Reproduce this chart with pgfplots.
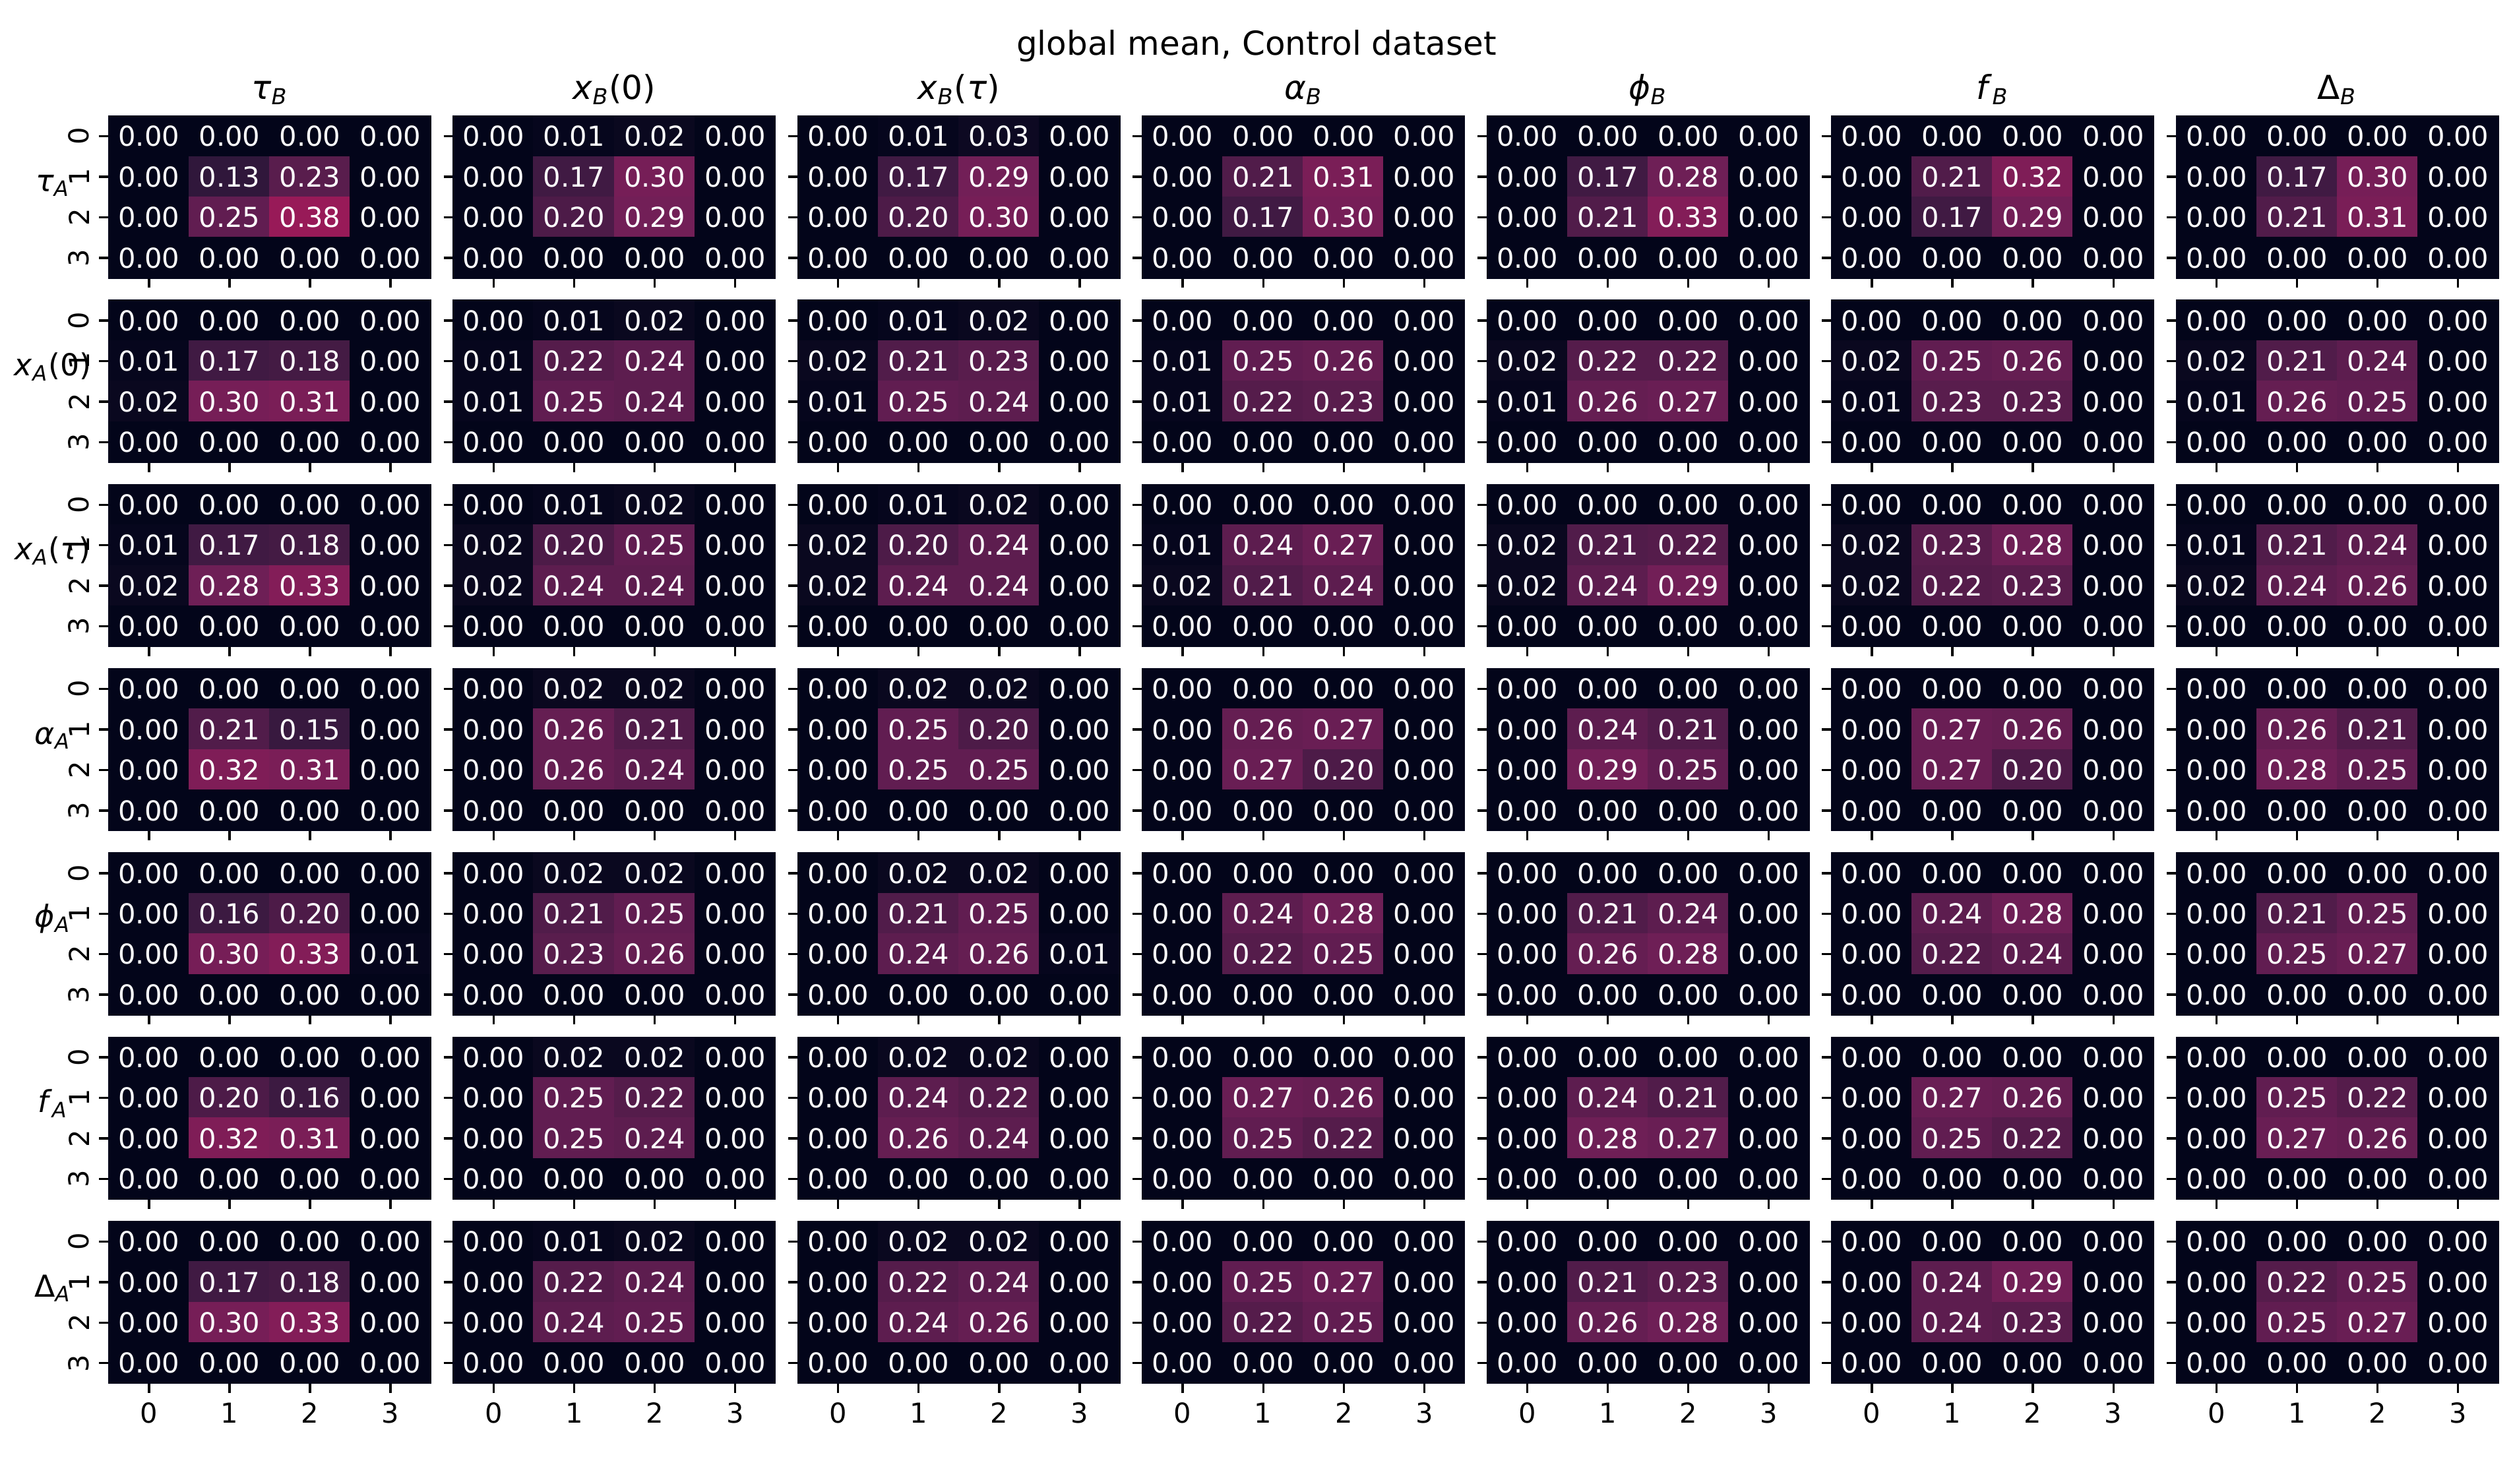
\documentclass[border=0pt]{standalone}
\usepackage{fontspec}
\setmainfont{DejaVu Sans}
\usepackage{pgfplots}
\pgfplotsset{compat=1.18}

\newcommand{\sub}[2]{\textit{#1}\textsubscript{\textit{#2}}}

\pgfplotsset{
  colormap={rocket}{rgb255(0pt)=(3,5,26) rgb255(14.3pt)=(53,25,62) rgb255(28.6pt)=(112,31,87)
    rgb255(42.9pt)=(173,23,89) rgb255(57.1pt)=(225,51,66) rgb255(71.4pt)=(243,118,81)
    rgb255(85.7pt)=(246,180,143) rgb255(100pt)=(250,235,221)},
  hm/.style={
    scale only axis, width=117.2pt, height=58.97pt,
    anchor=north west,
    xmin=-0.5, xmax=3.5, ymin=-0.5, ymax=3.5,
    enlargelimits=false, axis line style={draw=none},
    xtick={0,1,2,3}, ytick={0,1,2,3},
    xticklabels={}, yticklabels={},
    tick pos=left, tick align=outside,
    major tick length=3.5pt,
    tick style={black, line width=0.8pt},
    point meta min=0, point meta max=1,
    colormap name=rocket,
    ticklabel style={font=\fontsize{10}{12}\selectfont},
    yticklabel style={rotate=90, anchor=south},
    every axis title/.style={at={(rel axis cs:0.5,1)}, anchor=base, yshift=6pt,
      font=\fontsize{12}{14}\selectfont},
    every axis y label/.style={at={(rel axis cs:0,0.5)}, anchor=south, xshift=-20.35pt,
      inner sep=0pt, font=\fontsize{11}{13}\selectfont},
    clip=false,
  },
  lc/.style={yticklabels={3,2,1,0}},
  bt/.style={xticklabels={0,1,2,3}},
  table/cells/.style={row sep=\\, header=false,
    x expr={\coordindex-4*floor((\coordindex+0.5)/4)},
    y expr={3-floor((\coordindex+0.5)/4)}, meta index=0},
}

% #1 column, #2 row, #3 extra axis options, #4 the 16 cell values, row by row from the top
\newcommand{\hm}[4]{%
  \begin{axis}[hm, at={(39.55pt+125.38pt*#1, 497.76pt-67.03pt*#2)}, #3]
  \addplot[matrix plot*, mesh/cols=4, point meta=explicit] table[cells] {#4};
  \addplot[draw=none, point meta=explicit,
    nodes near coords={\pgfmathprintnumber[fixed,fixed zerofill,precision=2,assume math mode=true]{\pgfplotspointmeta}},
    nodes near coords align={center},
    nodes near coords style={white, anchor=center, font=\fontsize{10}{12}\selectfont}]
    table[cells] {#4};
  \end{axis}}

\begin{document}
\begin{tikzpicture}
\path[use as bounding box] (0,0) rectangle (914.4pt,540pt);
\node[anchor=north, inner sep=0pt, font=\fontsize{12}{14}\selectfont] at (457.2pt,529.2pt) {global mean, Control dataset};

% row tau_A
\hm{0}{0}{lc, title={\sub{τ}{B}}, ylabel={\sub{τ}{A}}}{0\\0\\0\\0\\0\\0.13\\0.23\\0\\0\\0.25\\0.38\\0\\0\\0\\0\\0\\}
\hm{1}{0}{title={\sub{x}{B}(0)}}{0\\0.01\\0.02\\0\\0\\0.17\\0.30\\0\\0\\0.20\\0.29\\0\\0\\0\\0\\0\\}
\hm{2}{0}{title={\sub{x}{B}(\textit{τ})}}{0\\0.01\\0.03\\0\\0\\0.17\\0.29\\0\\0\\0.20\\0.30\\0\\0\\0\\0\\0\\}
\hm{3}{0}{title={\sub{α}{B}}}{0\\0\\0\\0\\0\\0.21\\0.31\\0\\0\\0.17\\0.30\\0\\0\\0\\0\\0\\}
\hm{4}{0}{title={\sub{ϕ}{B}}}{0\\0\\0\\0\\0\\0.17\\0.28\\0\\0\\0.21\\0.33\\0\\0\\0\\0\\0\\}
\hm{5}{0}{title={\sub{f}{B}}}{0\\0\\0\\0\\0\\0.21\\0.32\\0\\0\\0.17\\0.29\\0\\0\\0\\0\\0\\}
\hm{6}{0}{title={Δ\textsubscript{\textit{B}}}}{0\\0\\0\\0\\0\\0.17\\0.30\\0\\0\\0.21\\0.31\\0\\0\\0\\0\\0\\}

% row x_A(0)
\hm{0}{1}{lc, ylabel={\sub{x}{A}(0)}}{0\\0\\0\\0\\0.01\\0.17\\0.18\\0\\0.02\\0.30\\0.31\\0\\0\\0\\0\\0\\}
\hm{1}{1}{}{0\\0.01\\0.02\\0\\0.01\\0.22\\0.24\\0\\0.01\\0.25\\0.24\\0\\0\\0\\0\\0\\}
\hm{2}{1}{}{0\\0.01\\0.02\\0\\0.02\\0.21\\0.23\\0\\0.01\\0.25\\0.24\\0\\0\\0\\0\\0\\}
\hm{3}{1}{}{0\\0\\0\\0\\0.01\\0.25\\0.26\\0\\0.01\\0.22\\0.23\\0\\0\\0\\0\\0\\}
\hm{4}{1}{}{0\\0\\0\\0\\0.02\\0.22\\0.22\\0\\0.01\\0.26\\0.27\\0\\0\\0\\0\\0\\}
\hm{5}{1}{}{0\\0\\0\\0\\0.02\\0.25\\0.26\\0\\0.01\\0.23\\0.23\\0\\0\\0\\0\\0\\}
\hm{6}{1}{}{0\\0\\0\\0\\0.02\\0.21\\0.24\\0\\0.01\\0.26\\0.25\\0\\0\\0\\0\\0\\}

% row x_A(tau)
\hm{0}{2}{lc, ylabel={\sub{x}{A}(\textit{τ})}}{0\\0\\0\\0\\0.01\\0.17\\0.18\\0\\0.02\\0.28\\0.33\\0\\0\\0\\0\\0\\}
\hm{1}{2}{}{0\\0.01\\0.02\\0\\0.02\\0.20\\0.25\\0\\0.02\\0.24\\0.24\\0\\0\\0\\0\\0\\}
\hm{2}{2}{}{0\\0.01\\0.02\\0\\0.02\\0.20\\0.24\\0\\0.02\\0.24\\0.24\\0\\0\\0\\0\\0\\}
\hm{3}{2}{}{0\\0\\0\\0\\0.01\\0.24\\0.27\\0\\0.02\\0.21\\0.24\\0\\0\\0\\0\\0\\}
\hm{4}{2}{}{0\\0\\0\\0\\0.02\\0.21\\0.22\\0\\0.02\\0.24\\0.29\\0\\0\\0\\0\\0\\}
\hm{5}{2}{}{0\\0\\0\\0\\0.02\\0.23\\0.28\\0\\0.02\\0.22\\0.23\\0\\0\\0\\0\\0\\}
\hm{6}{2}{}{0\\0\\0\\0\\0.01\\0.21\\0.24\\0\\0.02\\0.24\\0.26\\0\\0\\0\\0\\0\\}

% row alpha_A
\hm{0}{3}{lc, ylabel={\sub{α}{A}}}{0\\0\\0\\0\\0\\0.21\\0.15\\0\\0\\0.32\\0.31\\0\\0\\0\\0\\0\\}
\hm{1}{3}{}{0\\0.02\\0.02\\0\\0\\0.26\\0.21\\0\\0\\0.26\\0.24\\0\\0\\0\\0\\0\\}
\hm{2}{3}{}{0\\0.02\\0.02\\0\\0\\0.25\\0.20\\0\\0\\0.25\\0.25\\0\\0\\0\\0\\0\\}
\hm{3}{3}{}{0\\0\\0\\0\\0\\0.26\\0.27\\0\\0\\0.27\\0.20\\0\\0\\0\\0\\0\\}
\hm{4}{3}{}{0\\0\\0\\0\\0\\0.24\\0.21\\0\\0\\0.29\\0.25\\0\\0\\0\\0\\0\\}
\hm{5}{3}{}{0\\0\\0\\0\\0\\0.27\\0.26\\0\\0\\0.27\\0.20\\0\\0\\0\\0\\0\\}
\hm{6}{3}{}{0\\0\\0\\0\\0\\0.26\\0.21\\0\\0\\0.28\\0.25\\0\\0\\0\\0\\0\\}

% row phi_A
\hm{0}{4}{lc, ylabel={\sub{ϕ}{A}}}{0\\0\\0\\0\\0\\0.16\\0.20\\0\\0\\0.30\\0.33\\0.01\\0\\0\\0\\0\\}
\hm{1}{4}{}{0\\0.02\\0.02\\0\\0\\0.21\\0.25\\0\\0\\0.23\\0.26\\0\\0\\0\\0\\0\\}
\hm{2}{4}{}{0\\0.02\\0.02\\0\\0\\0.21\\0.25\\0\\0\\0.24\\0.26\\0.01\\0\\0\\0\\0\\}
\hm{3}{4}{}{0\\0\\0\\0\\0\\0.24\\0.28\\0\\0\\0.22\\0.25\\0\\0\\0\\0\\0\\}
\hm{4}{4}{}{0\\0\\0\\0\\0\\0.21\\0.24\\0\\0\\0.26\\0.28\\0\\0\\0\\0\\0\\}
\hm{5}{4}{}{0\\0\\0\\0\\0\\0.24\\0.28\\0\\0\\0.22\\0.24\\0\\0\\0\\0\\0\\}
\hm{6}{4}{}{0\\0\\0\\0\\0\\0.21\\0.25\\0\\0\\0.25\\0.27\\0\\0\\0\\0\\0\\}

% row f_A
\hm{0}{5}{lc, ylabel={\sub{f}{A}}}{0\\0\\0\\0\\0\\0.20\\0.16\\0\\0\\0.32\\0.31\\0\\0\\0\\0\\0\\}
\hm{1}{5}{}{0\\0.02\\0.02\\0\\0\\0.25\\0.22\\0\\0\\0.25\\0.24\\0\\0\\0\\0\\0\\}
\hm{2}{5}{}{0\\0.02\\0.02\\0\\0\\0.24\\0.22\\0\\0\\0.26\\0.24\\0\\0\\0\\0\\0\\}
\hm{3}{5}{}{0\\0\\0\\0\\0\\0.27\\0.26\\0\\0\\0.25\\0.22\\0\\0\\0\\0\\0\\}
\hm{4}{5}{}{0\\0\\0\\0\\0\\0.24\\0.21\\0\\0\\0.28\\0.27\\0\\0\\0\\0\\0\\}
\hm{5}{5}{}{0\\0\\0\\0\\0\\0.27\\0.26\\0\\0\\0.25\\0.22\\0\\0\\0\\0\\0\\}
\hm{6}{5}{}{0\\0\\0\\0\\0\\0.25\\0.22\\0\\0\\0.27\\0.26\\0\\0\\0\\0\\0\\}

% row Delta_A
\hm{0}{6}{lc, bt, ylabel={Δ\textsubscript{\textit{A}}}}{0\\0\\0\\0\\0\\0.17\\0.18\\0\\0\\0.30\\0.33\\0\\0\\0\\0\\0\\}
\hm{1}{6}{bt}{0\\0.01\\0.02\\0\\0\\0.22\\0.24\\0\\0\\0.24\\0.25\\0\\0\\0\\0\\0\\}
\hm{2}{6}{bt}{0\\0.02\\0.02\\0\\0\\0.22\\0.24\\0\\0\\0.24\\0.26\\0\\0\\0\\0\\0\\}
\hm{3}{6}{bt}{0\\0\\0\\0\\0\\0.25\\0.27\\0\\0\\0.22\\0.25\\0\\0\\0\\0\\0\\}
\hm{4}{6}{bt}{0\\0\\0\\0\\0\\0.21\\0.23\\0\\0\\0.26\\0.28\\0\\0\\0\\0\\0\\}
\hm{5}{6}{bt}{0\\0\\0\\0\\0\\0.24\\0.29\\0\\0\\0.24\\0.23\\0\\0\\0\\0\\0\\}
\hm{6}{6}{bt}{0\\0\\0\\0\\0\\0.22\\0.25\\0\\0\\0.25\\0.27\\0\\0\\0\\0\\0\\}
\end{tikzpicture}
\end{document}
